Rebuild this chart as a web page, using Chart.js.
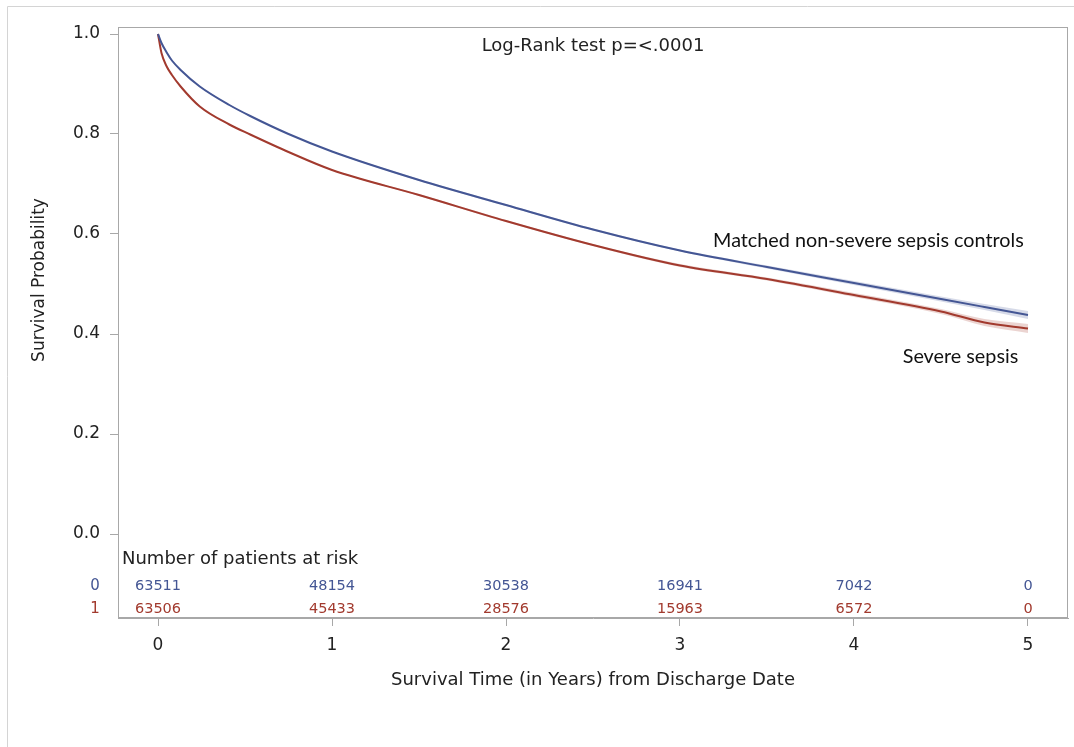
<!DOCTYPE html>
<html>
<head>
<meta charset="utf-8">
<title>Survival after discharge</title>
<script src="https://cdn.jsdelivr.net/npm/chart.js@4.4.1/dist/chart.umd.min.js"></script>
<style>
  html, body { margin: 0; padding: 0; background: #fff; }
  #wrap { position: relative; width: 1074px; height: 747px; }
</style>
</head>
<body>
<div id="wrap"><canvas id="km" width="1074" height="747"></canvas></div>
<script>
// Kaplan-Meier estimates, years from discharge
const years = [0, 0.02, 0.05, 0.08, 0.13, 0.24, 0.41, 0.53, 0.75, 1.0, 1.5, 2.0, 2.5, 3.0, 3.5, 4.0, 4.5, 4.75, 5.0];

// matched non-severe sepsis controls (stratum 0)
const survControls = [1.000, 0.982, 0.963, 0.947, 0.928, 0.895, 0.858, 0.836, 0.800, 0.765, 0.708, 0.658, 0.609, 0.567, 0.534, 0.502, 0.470, 0.454, 0.438];
const ciControlsLow = [1.000, 0.981, 0.962, 0.946, 0.927, 0.894, 0.857, 0.835, 0.799, 0.764, 0.706, 0.656, 0.607, 0.565, 0.531, 0.498, 0.465, 0.448, 0.430];
const ciControlsHigh = [1.000, 0.983, 0.964, 0.948, 0.929, 0.896, 0.859, 0.837, 0.801, 0.766, 0.710, 0.660, 0.611, 0.569, 0.537, 0.506, 0.475, 0.460, 0.446];

// severe sepsis (stratum 1)
const survSepsis = [1.000, 0.962, 0.935, 0.918, 0.895, 0.855, 0.819, 0.799, 0.764, 0.728, 0.678, 0.626, 0.578, 0.537, 0.510, 0.478, 0.445, 0.423, 0.411];
const ciSepsisLow = [1.000, 0.961, 0.934, 0.917, 0.894, 0.854, 0.818, 0.798, 0.763, 0.727, 0.676, 0.624, 0.576, 0.534, 0.507, 0.474, 0.440, 0.416, 0.402];
const ciSepsisHigh = [1.000, 0.963, 0.936, 0.919, 0.896, 0.856, 0.820, 0.800, 0.765, 0.729, 0.680, 0.628, 0.580, 0.540, 0.513, 0.482, 0.450, 0.430, 0.420];

// number at risk table
const riskYears = [0, 1, 2, 3, 4, 5];
const atRiskControls = [63511, 48154, 30538, 16941, 7042, 0];
const atRiskSepsis = [63506, 45433, 28576, 15963, 6572, 0];

const xTickValues = [0, 1, 2, 3, 4, 5];
const yTickValues = [0, 0.2, 0.4, 0.6, 0.8, 1.0];

const BLUE = '#445694';
const RED = '#a23a2e';
const BLUE_BAND = 'rgba(68, 86, 148, 0.22)';
const RED_BAND = 'rgba(162, 58, 46, 0.22)';
const AXIS = '#a8a8a8';
const INK = '#222';
const FONT = 'DejaVu Sans';

Chart.defaults.font.family = FONT;
Chart.defaults.color = INK;

const pts = (ys) => years.map((t, i) => ({ x: t, y: ys[i] }));

// frame, annotations, y title and at-risk rows
const kmDecor = {
    id: 'kmDecor',
    beforeDraw(chart) {
        const { ctx } = chart;
        ctx.save();
        ctx.strokeStyle = '#d4d4d4';
        ctx.lineWidth = 1;
        ctx.beginPath();
        ctx.moveTo(7.5, 747);
        ctx.lineTo(7.5, 6.5);
        ctx.lineTo(1074, 6.5);
        ctx.stroke();
        ctx.restore();
    },
    afterDraw(chart) {
        const { ctx, chartArea: a, scales: { x, y } } = chart;
        ctx.save();

        ctx.strokeStyle = AXIS;
        ctx.lineWidth = 1;
        ctx.strokeRect(Math.round(a.left) + 0.5, Math.round(a.top) + 0.5,
            Math.round(a.right - a.left) - 1, Math.round(a.bottom - a.top) - 1);

        ctx.fillStyle = INK;
        ctx.textBaseline = 'middle';

        ctx.font = `18px ${FONT}`;
        ctx.textAlign = 'center';
        ctx.fillText('Log-Rank test p=<.0001', x.getPixelForValue(2.5), y.getPixelForValue(0.976));

        // y axis title, centred on the 0-1 range
        ctx.save();
        ctx.translate(40, y.getPixelForValue(0.508));
        ctx.rotate(-Math.PI / 2);
        ctx.font = `17px ${FONT}`;
        ctx.fillText('Survival Probability', 0, 0);
        ctx.restore();

        // curve labels
        ctx.font = '19.8px Lato';
        ctx.textAlign = 'left';
        ctx.fillStyle = '#111';
        ctx.fillText('Matched non-severe sepsis controls', x.getPixelForValue(3.19), y.getPixelForValue(0.587));
        ctx.fillText('Severe sepsis', x.getPixelForValue(4.28), y.getPixelForValue(0.354));

        // at-risk table inside the plot, below zero
        ctx.fillStyle = INK;
        ctx.font = `18px ${FONT}`;
        ctx.fillText('Number of patients at risk', a.left + 4, y.getPixelForValue(-0.05));

        const rowC = y.getPixelForValue(-0.104);
        const rowS = y.getPixelForValue(-0.15);
        ctx.textAlign = 'center';
        ctx.font = `15px ${FONT}`;
        ctx.fillStyle = BLUE;
        ctx.fillText('0', a.left - 23, rowC);
        ctx.fillStyle = RED;
        ctx.fillText('1', a.left - 23, rowS);

        ctx.font = `14.5px ${FONT}`;
        riskYears.forEach((t, i) => {
            const px = x.getPixelForValue(t);
            ctx.fillStyle = BLUE;
            ctx.fillText(String(atRiskControls[i]), px, rowC);
            ctx.fillStyle = RED;
            ctx.fillText(String(atRiskSepsis[i]), px, rowS);
        });

        ctx.restore();
    }
};

const lineStyle = { pointRadius: 0, borderWidth: 2, fill: false, cubicInterpolationMode: 'monotone', order: 0 };
const bandStyle = { pointRadius: 0, borderWidth: 0, borderColor: 'transparent', cubicInterpolationMode: 'monotone', order: 1 };

new Chart(document.getElementById('km'), {
    type: 'line',
    data: {
        datasets: [
            { ...lineStyle, label: '0', data: pts(survControls), borderColor: BLUE },
            { ...lineStyle, label: '1', data: pts(survSepsis), borderColor: RED },
            { ...bandStyle, label: '0 upper', data: pts(ciControlsHigh), fill: false },
            { ...bandStyle, label: '0 lower', data: pts(ciControlsLow), fill: '-1', backgroundColor: BLUE_BAND },
            { ...bandStyle, label: '1 upper', data: pts(ciSepsisHigh), fill: false },
            { ...bandStyle, label: '1 lower', data: pts(ciSepsisLow), fill: '-1', backgroundColor: RED_BAND }
        ]
    },
    options: {
        responsive: false,
        animation: false,
        layout: { padding: { top: 27, right: 6, left: 0, bottom: 0 } },
        plugins: {
            legend: { display: false },
            tooltip: { enabled: false }
        },
        scales: {
            x: {
                type: 'linear',
                min: -0.2299,
                max: 5.2299,
                afterBuildTicks: (s) => { s.ticks = xTickValues.map(v => ({ value: v })); },
                afterFit: (s) => { s.height = 129; },
                ticks: { font: { size: 17 }, color: INK, padding: 9, maxRotation: 0 },
                grid: { drawOnChartArea: false, drawTicks: true, tickLength: 8, color: AXIS },
                border: { display: true, color: AXIS },
                title: {
                    display: true,
                    text: 'Survival Time (in Years) from Discharge Date',
                    font: { size: 18 },
                    color: INK,
                    padding: { top: 0, bottom: 56 }
                }
            },
            y: {
                type: 'linear',
                min: -0.168,
                max: 1.014,
                afterBuildTicks: (s) => { s.ticks = yTickValues.map(v => ({ value: v })); },
                afterFit: (s) => { s.width = 118; },
                ticks: { font: { size: 17 }, color: INK, padding: 10, callback: (v) => v.toFixed(1) },
                grid: { drawOnChartArea: false, drawTicks: true, tickLength: 8, color: AXIS },
                border: { display: true, color: AXIS }
            }
        }
    },
    plugins: [kmDecor]
});
</script>
</body>
</html>
